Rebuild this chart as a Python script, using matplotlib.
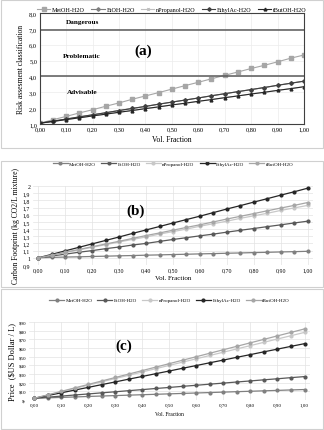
import numpy as np
import matplotlib
matplotlib.use("Agg")
import matplotlib.pyplot as plt
from matplotlib.patches import Rectangle

plt.rcParams['font.family'] = ['Liberation Serif', 'DejaVu Serif']

vol = [0.00, 0.05, 0.10, 0.15, 0.20, 0.25, 0.30, 0.35, 0.40, 0.45, 0.50,
       0.55, 0.60, 0.65, 0.70, 0.75, 0.80, 0.85, 0.90, 0.95, 1.00]
names = ['MetOH-H2O', 'EtOH-H2O', 'nPropanol-H2O', 'EthylAc-H2O', 'tButOH-H2O']
names_bc = ['MetOH-H2O', 'EtOH-H2O', 'nPropanol-H2O', 'EthylAc-H2O', 'tButOH-H2O']

# (a) risk assessment
risk_metoh = [1.05, 1.27, 1.48, 1.70, 1.90, 2.12, 2.33, 2.56, 2.77, 2.98, 3.20,
              3.42, 3.63, 3.85, 4.07, 4.28, 4.50, 4.70, 4.92, 5.15, 5.35]
risk_etoh = [1.05, 1.18, 1.31, 1.45, 1.58, 1.71, 1.85, 1.98, 2.11, 2.25, 2.38,
             2.51, 2.64, 2.78, 2.91, 3.04, 3.17, 3.30, 3.44, 3.57, 3.70]
risk_nprop = [1.05, 1.16, 1.28, 1.39, 1.51, 1.62, 1.74, 1.85, 1.97, 2.08, 2.20,
              2.31, 2.43, 2.54, 2.66, 2.77, 2.89, 3.00, 3.12, 3.23, 3.35]
risk_ethylac = [1.05, 1.18, 1.31, 1.45, 1.58, 1.71, 1.85, 1.98, 2.11, 2.25, 2.38,
                2.51, 2.64, 2.78, 2.91, 3.04, 3.17, 3.30, 3.44, 3.57, 3.70]
risk_tbutoh = [1.05, 1.16, 1.28, 1.39, 1.51, 1.62, 1.74, 1.85, 1.97, 2.08, 2.20,
               2.31, 2.43, 2.54, 2.66, 2.77, 2.89, 3.00, 3.12, 3.23, 3.35]

# (b) carbon footprint
cf_metoh = [1.00, 1.005, 1.01, 1.013, 1.018, 1.022, 1.027, 1.031, 1.036, 1.04, 1.045,
            1.049, 1.054, 1.058, 1.063, 1.067, 1.072, 1.076, 1.081, 1.085, 1.09]
cf_etoh = [1.00, 1.025, 1.05, 1.077, 1.10, 1.127, 1.15, 1.178, 1.20, 1.228, 1.255,
           1.28, 1.306, 1.33, 1.357, 1.383, 1.408, 1.434, 1.459, 1.485, 1.51]
cf_nprop = [1.00, 1.036, 1.073, 1.11, 1.146, 1.183, 1.22, 1.256, 1.29, 1.33, 1.365,
            1.40, 1.44, 1.475, 1.51, 1.55, 1.585, 1.62, 1.66, 1.695, 1.73]
cf_ethylac = [1.00, 1.048, 1.097, 1.145, 1.194, 1.242, 1.29, 1.34, 1.388, 1.436, 1.485,
              1.533, 1.58, 1.63, 1.68, 1.727, 1.776, 1.824, 1.873, 1.92, 1.97]
cf_tbutoh = [1.00, 1.038, 1.077, 1.115, 1.154, 1.192, 1.23, 1.27, 1.31, 1.346, 1.385,
             1.423, 1.46, 1.50, 1.54, 1.578, 1.616, 1.655, 1.693, 1.73, 1.77]

# (c) price
pr_metoh = [2.0, 2.5, 3.0, 3.5, 4.1, 4.6, 5.1, 5.6, 6.1, 6.6, 7.1,
            7.6, 8.1, 8.6, 9.1, 9.6, 10.1, 10.6, 11.1, 11.6, 12.1]
pr_etoh = [2.0, 3.3, 4.5, 5.8, 7.0, 8.3, 9.5, 10.8, 12.0, 13.3, 14.5,
           15.8, 17.0, 18.3, 19.5, 20.8, 22.0, 23.3, 24.5, 25.8, 27.0]
pr_nprop = [2.0, 5.8, 9.6, 13.4, 17.2, 21.0, 24.8, 28.6, 32.4, 36.2, 40.0,
            43.8, 47.6, 51.4, 55.2, 59.0, 62.8, 66.6, 70.4, 74.2, 78.0]
pr_ethylac = [2.0, 5.2, 8.3, 11.5, 14.6, 17.8, 20.9, 24.1, 27.2, 30.4, 33.5,
              36.7, 39.8, 43.0, 46.1, 49.3, 52.4, 55.6, 58.7, 61.9, 65.0]
pr_tbutoh = [2.0, 6.0, 10.0, 14.0, 18.0, 22.0, 26.0, 30.0, 34.0, 38.0, 42.0,
             46.0, 50.0, 54.0, 58.0, 62.0, 66.0, 70.0, 74.0, 78.0, 82.0]

xticks = np.arange(0, 1.01, 0.1)
xlabels = ['%.2f' % v for v in xticks]
xlabels = [s.replace('.', ',') for s in xlabels]

fig = plt.figure(figsize=(3.24, 4.31), dpi=100)

# panel frames
for y0, h in [(0.655, 0.343), (0.332, 0.293), (0.002, 0.325)]:
    fig.patches.append(Rectangle((0.004, y0), 0.992, h, transform=fig.transFigure,
                                 fill=False, ec='#d0d0d0', lw=0.8))

# ---------- (a) ----------
ax = fig.add_axes([0.123, 0.710, 0.815, 0.2575])
styles_a = [('#a6a6a6', 's', 2.2), ('#7f7f7f', 'D', 1.8), ('#bfbfbf', 'x', 1.8),
            ('#404040', 'D', 1.8), ('#262626', '^', 2.0)]
series_a = [risk_metoh, risk_etoh, risk_nprop, risk_ethylac, risk_tbutoh]
for nm, ys, (c, m, ms) in zip(names, series_a, styles_a):
    ax.plot(vol, ys, color=c, marker=m, ms=ms, lw=0.8, label=nm)
ax.axhline(4.0, color='#595959', lw=1.1)
ax.axhline(6.95, color='#595959', lw=1.1)
ax.set_xlim(0, 1)
ax.set_ylim(1, 8)
ax.set_xticks(xticks)
ax.set_xticklabels(xlabels)
ax.set_yticks(np.arange(1, 8.1, 1))
ax.set_yticklabels([('%.1f' % v).replace('.', ',') for v in np.arange(1, 8.1, 1)])
ax.tick_params(labelsize=4.6, length=0, pad=2)
ax.grid(color='#ececec', lw=0.5)
for s in ax.spines.values():
    s.set_color('#404040')
    s.set_linewidth(0.8)
ax.set_xlabel('Vol. Fraction', fontsize=5.5, labelpad=2)
ax.set_ylabel('Risk assesment classification', fontsize=5.5, labelpad=3)
ax.text(0.16, 7.45, 'Dangerous', fontsize=5.2, fontweight='bold', ha='center', va='center')
ax.text(0.16, 5.3, 'Problematic', fontsize=5.2, fontweight='bold', ha='center', va='center')
ax.text(0.16, 3.05, 'Advisable', fontsize=5.2, fontweight='bold', ha='center', va='center')
ax.text(0.39, 5.65, '(a)', fontsize=11, fontweight='bold', ha='center', va='center')
ax.legend(loc='lower center', bbox_to_anchor=(0.5, 0.985), ncol=5, frameon=False,
          fontsize=4.4, handlelength=2.2, columnspacing=1.0, handletextpad=0.3,
          borderaxespad=0)

# ---------- (b) ----------
ax = fig.add_axes([0.102, 0.383, 0.864, 0.183])
styles_b = [('#808080', 'o'), ('#595959', 'o'), ('#c8c8c8', 'o'),
            ('#262626', 'o'), ('#a6a6a6', 'o')]
series_b = [cf_metoh, cf_etoh, cf_nprop, cf_ethylac, cf_tbutoh]
for nm, ys, (c, m) in zip(names_bc, series_b, styles_b):
    ax.plot(vol, ys, color=c, marker=m, ms=2.0, lw=0.9, label=nm)
ax.set_xlim(-0.02, 1.02)
ax.set_ylim(0.9, 2.0)
ax.set_xticks(xticks)
ax.set_xticklabels(xlabels)
yb = np.arange(0.9, 2.01, 0.1)
ax.set_yticks(yb)
ax.set_yticklabels([('%g' % round(v, 1)).replace('.', ',') for v in yb])
ax.tick_params(labelsize=4.2, length=0, pad=2)
ax.grid(color='#e3e3e3', lw=0.5)
for s in ax.spines.values():
    s.set_visible(False)
ax.set_xlabel('Vol. Fraction', fontsize=5.0, labelpad=2)
ax.set_ylabel('Carbon Footprint (kg CO2/L mixture)', fontsize=5.5, labelpad=2)
ax.text(0.36, 1.66, '(b)', fontsize=11, fontweight='bold', ha='center', va='center')
ax.legend(loc='center', bbox_to_anchor=(0.5, 1.28), ncol=5, frameon=False,
          fontsize=3.6, handlelength=3.0, columnspacing=1.0, handletextpad=0.3,
          borderaxespad=0)

# ---------- (c) ----------
ax = fig.add_axes([0.0895, 0.0696, 0.867, 0.181])
series_c = [pr_metoh, pr_etoh, pr_nprop, pr_ethylac, pr_tbutoh]
for nm, ys, (c, m) in zip(names_bc, series_c, styles_b):
    ax.plot(vol, ys, color=c, marker=m, ms=2.0, lw=0.9, label=nm)
ax.set_xlim(-0.02, 1.02)
ax.set_ylim(0, 90)
ax.set_xticks(xticks)
ax.set_xticklabels(xlabels)
yc = np.arange(0, 91, 10)
ax.set_yticks(yc)
ax.set_yticklabels(['$-'] + ['$%d' % v for v in yc[1:]])
ax.tick_params(labelsize=3.6, length=0, pad=2)
ax.grid(color='#e3e3e3', lw=0.5)
for s in ax.spines.values():
    s.set_visible(False)
ax.set_xlabel('Vol. Fraction', fontsize=4.0, labelpad=3)
ax.set_ylabel('Price  ($US Dollar / L)', fontsize=6.0, labelpad=2)
ax.text(0.33, 63, '(c)', fontsize=11, fontweight='bold', ha='center', va='center')
ax.legend(loc='center', bbox_to_anchor=(0.5, 1.28), ncol=5, frameon=False,
          fontsize=3.6, handlelength=3.0, columnspacing=1.0, handletextpad=0.3,
          borderaxespad=0)

fig.savefig('out.png', dpi=100)
